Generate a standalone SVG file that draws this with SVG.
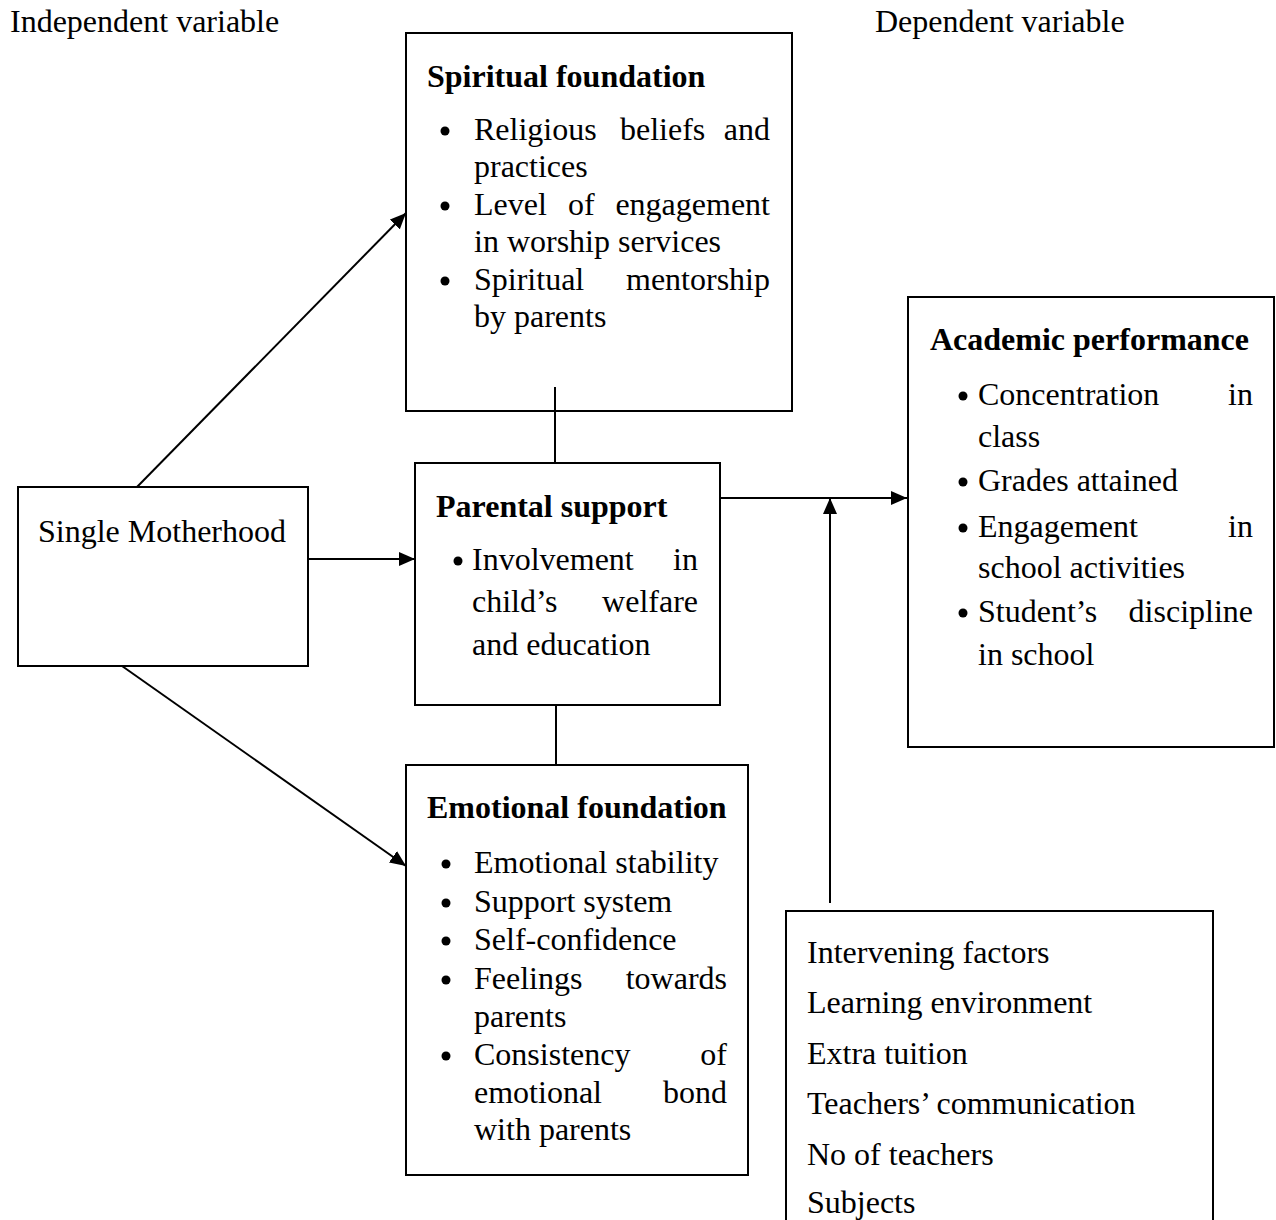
<svg xmlns="http://www.w3.org/2000/svg" width="1276" height="1220" viewBox="0 0 1276 1220">
<style>
text{font-family:"Liberation Serif","Times New Roman",serif;font-size:32px;fill:#000}
.b{font-weight:bold}
.e{text-anchor:end}
.box{fill:#fff;stroke:#000;stroke-width:2}
.ln{stroke:#000;stroke-width:2;fill:none}
.dot{fill:#000}
</style>
<defs>
<marker id="ah" viewBox="0 0 16 14" refX="16" refY="7" markerWidth="16" markerHeight="14" orient="auto" markerUnits="userSpaceOnUse"><path d="M0,0 L16,7 L0,14 z" fill="#000"/></marker>
</defs>
<rect width="1276" height="1220" fill="#fff"/>
<g id="labels">
<text x="10" y="32">Independent variable</text>
<text x="875" y="32">Dependent variable</text>
</g>
<g id="spiritual">
<rect class="box" x="406" y="33" width="386" height="378"/>
<text class="b" x="427" y="87">Spiritual foundation</text>
<circle class="dot" cx="445" cy="131" r="4.5"/>
<text x="474" y="140">Religious</text><text x="620" y="140">beliefs</text><text class="e" x="770" y="140">and</text>
<text x="474" y="177">practices</text>
<circle class="dot" cx="445" cy="206" r="4.5"/>
<text x="474" y="215">Level</text><text x="568" y="215">of</text><text class="e" x="770" y="215">engagement</text>
<text x="474" y="252">in worship services</text>
<circle class="dot" cx="445" cy="281" r="4.5"/>
<text x="474" y="290">Spiritual</text><text class="e" x="770" y="290">mentorship</text>
<text x="474" y="327">by parents</text>
</g>
<g id="single">
<rect class="box" x="18" y="487" width="290" height="179"/>
<text x="38" y="542">Single Motherhood</text>
</g>
<g id="parental">
<rect class="box" x="415" y="463" width="305" height="242"/>
<text class="b" x="436" y="517">Parental support</text>
<circle class="dot" cx="458" cy="561" r="4.5"/>
<text x="472" y="570">Involvement</text><text class="e" x="698" y="570">in</text>
<text x="472" y="612">child’s</text><text class="e" x="698" y="612">welfare</text>
<text x="472" y="655">and education</text>
</g>
<g id="academic">
<rect class="box" x="908" y="297" width="366" height="450"/>
<text class="b" x="930" y="350">Academic performance</text>
<circle class="dot" cx="963" cy="396" r="4.5"/>
<text x="978" y="405">Concentration</text><text class="e" x="1253" y="405">in</text>
<text x="978" y="447">class</text>
<circle class="dot" cx="963" cy="482" r="4.5"/>
<text x="978" y="491">Grades attained</text>
<circle class="dot" cx="963" cy="528" r="4.5"/>
<text x="978" y="537">Engagement</text><text class="e" x="1253" y="537">in</text>
<text x="978" y="578">school activities</text>
<circle class="dot" cx="963" cy="613" r="4.5"/>
<text x="978" y="622">Student’s</text><text class="e" x="1253" y="622">discipline</text>
<text x="978" y="665">in school</text>
</g>
<g id="emotional">
<rect class="box" x="406" y="765" width="342" height="410"/>
<text class="b" x="427" y="818">Emotional foundation</text>
<circle class="dot" cx="446" cy="864" r="4.5"/>
<text x="474" y="873">Emotional stability</text>
<circle class="dot" cx="446" cy="903" r="4.5"/>
<text x="474" y="912">Support system</text>
<circle class="dot" cx="446" cy="941" r="4.5"/>
<text x="474" y="950">Self-confidence</text>
<circle class="dot" cx="446" cy="980" r="4.5"/>
<text x="474" y="989">Feelings</text><text class="e" x="727" y="989">towards</text>
<text x="474" y="1027">parents</text>
<circle class="dot" cx="446" cy="1056" r="4.5"/>
<text x="474" y="1065">Consistency</text><text class="e" x="727" y="1065">of</text>
<text x="474" y="1103">emotional</text><text class="e" x="727" y="1103">bond</text>
<text x="474" y="1140">with parents</text>
</g>
<g id="intervening">
<rect class="box" x="786" y="911" width="427" height="330"/>
<text x="807" y="963">Intervening factors</text>
<text x="807" y="1013">Learning environment</text>
<text x="807" y="1064">Extra tuition</text>
<text x="807" y="1114">Teachers’ communication</text>
<text x="807" y="1165">No of teachers</text>
<text x="807" y="1213">Subjects</text>
</g>
<g id="connectors">
<line class="ln" x1="137" y1="487" x2="406" y2="213" marker-end="url(#ah)"/>
<line class="ln" x1="308" y1="559" x2="415" y2="559" marker-end="url(#ah)"/>
<line class="ln" x1="122" y1="666" x2="406" y2="866" marker-end="url(#ah)"/>
<line class="ln" x1="555" y1="387" x2="555" y2="463"/>
<line class="ln" x1="556" y1="705" x2="556" y2="765"/>
<line class="ln" x1="720" y1="498" x2="907" y2="498" marker-end="url(#ah)"/>
<line class="ln" x1="830" y1="903" x2="830" y2="498" marker-end="url(#ah)"/>
</g>
</svg>
